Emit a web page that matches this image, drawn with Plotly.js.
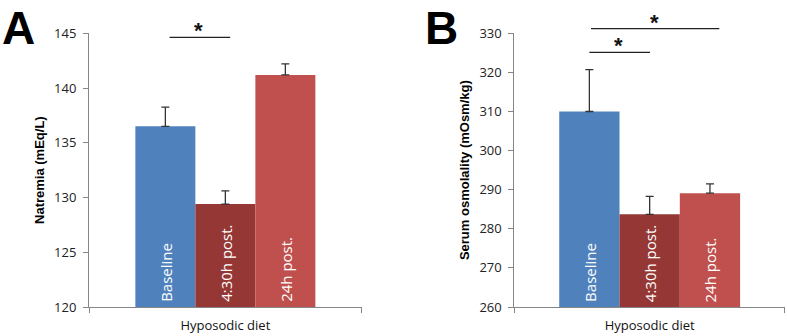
<!DOCTYPE html>
<html>
<head>
<meta charset="utf-8">
<script src="https://cdn.plot.ly/plotly-3.0.1.min.js"></script>
<style>
  html, body { margin: 0; padding: 0; background: #fff; }
  #chart { width: 787px; height: 336px; }
</style>
</head>
<body>
<div id="chart"></div>
<script>
// Groups of the hyposodic diet protocol
const categories = ['Baseline', '4:30h post.', '24h post.'];
const barColors = ['#4F81BD', '#953735', '#C0504D'];

// Panel A: natremia (mEq/L), mean and upper SD
const natremia = [136.5, 129.4, 141.2];
const natremiaErr = [1.75, 1.2, 1.0];

// Panel B: serum osmolality (mOsm/kg), mean and upper SD
const osmolality = [310.0, 283.7, 289.1];
const osmolalityErr = [10.7, 4.6, 2.4];

const xIdx = categories.map((_, i) => i);
const FONT = 'Open Sans, Liberation Sans, sans-serif';
const BOLD_FONT = 'Liberation Sans, Arial, sans-serif';
const AXIS_GREY = '#868686';

function barTrace(values, errs, xa, ya) {
  return {
    type: 'bar',
    x: xIdx,
    y: values,
    width: 1,
    xaxis: xa,
    yaxis: ya,
    marker: { color: barColors, line: { width: 0 } },
    error_y: {
      type: 'data', symmetric: false, array: errs,
      arrayminus: errs.map(() => 0),
      color: '#333', thickness: 1.3, width: 4
    },
    hoverinfo: 'x+y',
    showlegend: false
  };
}

function xAxis(domain, range, anchor) {
  return {
    domain: domain, range: range, anchor: anchor,
    showgrid: false, zeroline: false, showline: true,
    linecolor: AXIS_GREY, linewidth: 1,
    tickmode: 'array', tickvals: [range[0] + 0.005, range[1] - 0.005], ticktext: ['', ''],
    ticks: 'outside', ticklen: 5, tickcolor: AXIS_GREY,
    title: { text: 'Hyposodic diet', standoff: 6, font: { family: FONT, size: 13, color: '#111' } },
    fixedrange: true
  };
}

function yAxis(domain, range, dtick, anchor, title) {
  return {
    domain: domain, range: range, anchor: anchor,
    dtick: dtick, tick0: range[0],
    showgrid: false, zeroline: false, showline: true,
    linecolor: AXIS_GREY, linewidth: 1,
    ticks: 'outside', ticklen: 5, tickcolor: AXIS_GREY,
    ticklabelstandoff: 4,
    tickfont: { family: FONT, size: 13, color: '#222' },
    title: { text: title, standoff: 6, font: { family: BOLD_FONT, size: 13, color: '#000', weight: 'bold' } },
    fixedrange: true
  };
}

// Category names written vertically inside each bar
function barLabels(xref, yref, base) {
  return categories.map((c, i) => ({
    x: i, y: base, xref: xref, yref: yref,
    text: c, textangle: -90, showarrow: false,
    xanchor: 'center', yanchor: 'bottom', yshift: 3,
    font: { family: FONT, size: 15, color: '#fff' }
  }));
}

// Significance brackets drawn between compared groups
function bracket(xref, x0, x1, y) {
  return {
    type: 'line', xref: xref, yref: 'paper',
    x0: x0, x1: x1, y0: y, y1: y,
    line: { color: '#222', width: 1.2 }
  };
}
function star(xref, x, y) {
  return {
    x: x, y: y, xref: xref, yref: 'paper',
    text: '*', showarrow: false, xanchor: 'center', yanchor: 'bottom',
    font: { family: BOLD_FONT, size: 22, color: '#111', weight: 'bold' }
  };
}
function panelLetter(x, letter) {
  return {
    x: x, y: 1.0, xref: 'paper', yref: 'paper', text: letter, showarrow: false,
    xanchor: 'left', yanchor: 'top',
    font: { family: BOLD_FONT, size: 46, color: '#000', weight: 'bold' }
  };
}

const yDom = [0.0863, 0.9009];
const rangeA = [-1.2725, 3.2725];
const rangeB = [-1.245, 3.245];

const data = [
  barTrace(natremia, natremiaErr, 'x', 'y'),
  barTrace(osmolality, osmolalityErr, 'x2', 'y2')
];

const layout = {
  width: 787, height: 336,
  margin: { l: 0, r: 0, t: 0, b: 0 },
  paper_bgcolor: '#fff', plot_bgcolor: '#fff',
  showlegend: false,
  xaxis: xAxis([0.1131, 0.4596], rangeA, 'y'),
  yaxis: yAxis(yDom, [120, 145], 5, 'x', 'Natremia (mEq/L)'),
  xaxis2: xAxis([0.6535, 0.9975], rangeB, 'y2'),
  yaxis2: yAxis(yDom, [260, 330], 10, 'x2', 'Serum osmolality (mOsm/kg)'),
  shapes: [
    bracket('x', 0.07, 1.08, 0.889),
    bracket('x2', 0.0, 1.005, 0.844),
    bracket('x2', 0.027, 2.155, 0.915)
  ],
  annotations: [
    ...barLabels('x', 'y', 120),
    ...barLabels('x2', 'y2', 260),
    star('x', 0.56, 0.866),
    star('x2', 0.488, 0.821),
    star('x2', 1.088, 0.891),
    panelLetter(0.0, 'A'),
    panelLetter(0.538, 'B')
  ]
};

Plotly.newPlot('chart', data, layout, { displayModeBar: false, staticPlot: true });
</script>
</body>
</html>
